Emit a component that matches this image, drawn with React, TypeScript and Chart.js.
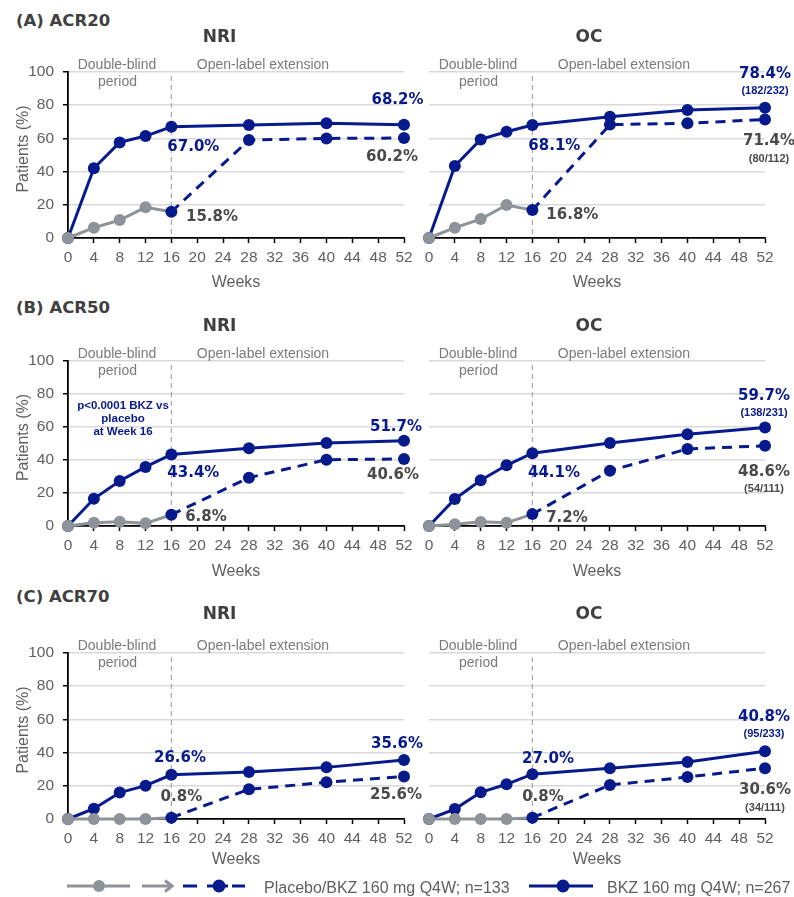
import React, { useEffect, useRef } from "react";
import { Chart, registerables } from "chart.js";

Chart.register(...registerables);

// ---------------- DATA ----------------
const weeks = [0, 4, 8, 12, 16, 28, 40, 52];
const dbWeeks = [0, 4, 8, 12, 16];
const extWeeks = [16, 28, 40, 52];

// ACR20
const acr20NriBkz = [0, 42.0, 57.6, 61.4, 67.0, 68.1, 69.1, 68.2];
const acr20NriPbo = [0, 6.2, 10.8, 18.5, 15.8];
const acr20NriExt = [15.8, 59.0, 60.0, 60.2];
const acr20OcBkz = [0, 43.4, 59.4, 64.0, 68.1, 73.1, 77.1, 78.4];
const acr20OcPbo = [0, 6.2, 11.4, 19.9, 16.8];
const acr20OcExt = [16.8, 68.3, 69.1, 71.4];
// ACR50
const acr50NriBkz = [0, 16.5, 27.3, 35.8, 43.4, 47.1, 50.3, 51.7];
const acr50NriPbo = [0, 2.0, 2.6, 1.6, 6.8];
const acr50NriExt = [6.8, 29.3, 40.2, 40.6];
const acr50OcBkz = [0, 16.4, 27.7, 36.8, 44.1, 50.3, 55.6, 59.7];
const acr50OcPbo = [0, 1.0, 2.5, 1.9, 7.2];
const acr50OcExt = [7.2, 33.5, 46.7, 48.6];
// ACR70
const acr70NriBkz = [0, 6.2, 15.9, 20.1, 26.6, 28.3, 31.1, 35.6];
const acr70NriPbo = [0, 0, 0, 0, 0.8];
const acr70NriExt = [0.8, 17.9, 22.1, 25.6];
const acr70OcBkz = [0, 6.0, 16.1, 20.9, 27.0, 30.5, 34.3, 40.8];
const acr70OcPbo = [0, 0, 0, 0, 0.8];
const acr70OcExt = [0.8, 20.5, 25.3, 30.6];

// OC counts at week 52
const ocBkzCounts = ["(182/232)", "(138/231)", "(95/233)"];
const ocExtCounts = ["(80/112)", "(54/111)", "(34/111)"];

const sectionTitles = ["(A) ACR20", "(B) ACR50", "(C) ACR70"];
const legendLabels = ["Placebo/BKZ 160 mg Q4W; n=133", "BKZ 160 mg Q4W; n=267"];
const pValueLines = ["p<0.0001 BKZ vs", "placebo", "at Week 16"];

// ---------------- STYLE ----------------
const BLUE = "#071a8c";
const GRAY = "#8e9399";
const LABEL_GRAY = "#4a4a4a";
const AXIS_TEXT = "#5f5f5f";
const SECTION_TEXT = "#7a7a7a";
const TITLE_COLOR = "#404040";
const SANS = "'Liberation Sans', Arial, sans-serif";
const VERD = "'DejaVu Sans', Verdana, sans-serif";

Chart.defaults.font.family = SANS;

type LabelSpec = {
  ds: "bkz" | "pbo" | "ext";
  i: number;
  dx: number;
  dy: number;
  blue: boolean;
  sub?: string;
  subDx?: number;
  subDy?: number;
};

type PanelCfg = {
  kind: "NRI" | "OC";
  bkz: number[];
  pbo: number[];
  ext: number[];
  chartTop: number;
  chartBottom: number;
  xh: number;
  weeksPb: number;
  titleDy: number;
  labels: LabelSpec[];
  pValue?: boolean;
};

const rows = [
  { top: 72, bottom: 238, xh: 55, pb: 0.4, tdy: -34 },
  { top: 361, bottom: 526, xh: 55, pb: 0, tdy: -34.3 },
  { top: 653, bottom: 819, xh: 52, pb: 1.4, tdy: -38 },
];

const panels: PanelCfg[] = [
  {
    kind: "NRI", bkz: acr20NriBkz, pbo: acr20NriPbo, ext: acr20NriExt,
    chartTop: rows[0].top, chartBottom: rows[0].bottom, xh: rows[0].xh, weeksPb: rows[0].pb, titleDy: rows[0].tdy,
    labels: [
      { ds: "bkz", i: 4, dx: 22, dy: 20, blue: true },
      { ds: "bkz", i: 7, dx: -6.5, dy: -25, blue: true },
      { ds: "ext", i: 3, dx: -12, dy: 18.6, blue: false },
      { ds: "pbo", i: 4, dx: 40.6, dy: 5, blue: false },
    ],
  },
  {
    kind: "OC", bkz: acr20OcBkz, pbo: acr20OcPbo, ext: acr20OcExt,
    chartTop: rows[0].top, chartBottom: rows[0].bottom, xh: rows[0].xh, weeksPb: rows[0].pb, titleDy: rows[0].tdy,
    labels: [
      { ds: "bkz", i: 4, dx: 22, dy: 21, blue: true },
      { ds: "bkz", i: 7, dx: 0, dy: -34, blue: true, sub: ocBkzCounts[0], subDx: 0, subDy: -17 },
      { ds: "ext", i: 3, dx: 4, dy: 22, blue: false, sub: ocExtCounts[0], subDx: 4, subDy: 39 },
      { ds: "pbo", i: 4, dx: 40, dy: 5, blue: false },
    ],
  },
  {
    kind: "NRI", bkz: acr50NriBkz, pbo: acr50NriPbo, ext: acr50NriExt,
    chartTop: rows[1].top, chartBottom: rows[1].bottom, xh: rows[1].xh, weeksPb: rows[1].pb, titleDy: rows[1].tdy,
    pValue: true,
    labels: [
      { ds: "bkz", i: 4, dx: 22, dy: 19, blue: true },
      { ds: "bkz", i: 7, dx: -8, dy: -14, blue: true },
      { ds: "ext", i: 3, dx: -11, dy: 16, blue: false },
      { ds: "pbo", i: 4, dx: 34.6, dy: 2, blue: false },
    ],
  },
  {
    kind: "OC", bkz: acr50OcBkz, pbo: acr50OcPbo, ext: acr50OcExt,
    chartTop: rows[1].top, chartBottom: rows[1].bottom, xh: rows[1].xh, weeksPb: rows[1].pb, titleDy: rows[1].tdy,
    labels: [
      { ds: "bkz", i: 4, dx: 21.6, dy: 19.5, blue: true },
      { ds: "bkz", i: 7, dx: -1, dy: -31.5, blue: true, sub: ocBkzCounts[1], subDx: -1, subDy: -14.5 },
      { ds: "ext", i: 3, dx: -1, dy: 26, blue: false, sub: ocExtCounts[1], subDx: -1, subDy: 43 },
      { ds: "pbo", i: 4, dx: 34.6, dy: 3.6, blue: false },
    ],
  },
  {
    kind: "NRI", bkz: acr70NriBkz, pbo: acr70NriPbo, ext: acr70NriExt,
    chartTop: rows[2].top, chartBottom: rows[2].bottom, xh: rows[2].xh, weeksPb: rows[2].pb, titleDy: rows[2].tdy,
    labels: [
      { ds: "bkz", i: 4, dx: 8.6, dy: -17, blue: true },
      { ds: "pbo", i: 4, dx: 10, dy: -20.4, blue: false },
      { ds: "bkz", i: 7, dx: -7, dy: -16, blue: true },
      { ds: "ext", i: 3, dx: -8, dy: 18.5, blue: false },
    ],
  },
  {
    kind: "OC", bkz: acr70OcBkz, pbo: acr70OcPbo, ext: acr70OcExt,
    chartTop: rows[2].top, chartBottom: rows[2].bottom, xh: rows[2].xh, weeksPb: rows[2].pb, titleDy: rows[2].tdy,
    labels: [
      { ds: "bkz", i: 4, dx: 15.6, dy: -15, blue: true },
      { ds: "pbo", i: 4, dx: 10.6, dy: -20.4, blue: false },
      { ds: "bkz", i: 7, dx: -1, dy: -34.6, blue: true, sub: ocBkzCounts[2], subDx: -1, subDy: -17.3 },
      { ds: "ext", i: 3, dx: 0, dy: 22, blue: false, sub: ocExtCounts[2], subDx: 0, subDy: 40 },
    ],
  },
];

const PAD_TOP = 60;

function geom(p: PanelCfg) {
  const isNri = p.kind === "NRI";
  const canvasLeft = isNri ? 0 : 400;
  const canvasWidth = isNri ? 430 : 394;
  const chartLeft = isNri ? 68 : 429;
  const chartRight = isNri ? 404 : 765;
  const canvasTop = p.chartTop - PAD_TOP;
  const canvasHeight = p.chartBottom - p.chartTop + PAD_TOP + p.xh;
  return {
    isNri,
    canvasLeft,
    canvasWidth,
    canvasTop,
    canvasHeight,
    yw: isNri ? chartLeft - canvasLeft : 0,
    padLeft: isNri ? 0 : chartLeft - canvasLeft,
    padRight: canvasLeft + canvasWidth - chartRight,
  };
}

function Panel({ p }: { p: PanelCfg }) {
  const ref = useRef<HTMLCanvasElement | null>(null);
  const g = geom(p);

  useEffect(() => {
    if (!ref.current) return;
    const annot = {
      id: "annot",
      beforeDatasetsDraw(chart: any) {
        const { ctx, chartArea, scales } = chart;
        const x16 = scales.x.getPixelForValue(16);
        ctx.save();
        ctx.strokeStyle = "#a8a8a8";
        ctx.lineWidth = 1.2;
        ctx.setLineDash([5, 4]);
        ctx.beginPath();
        ctx.moveTo(x16, chartArea.top + 4);
        ctx.lineTo(x16, chartArea.bottom);
        ctx.stroke();
        ctx.restore();
      },
      afterDraw(chart: any) {
        const { ctx, chartArea, scales } = chart;
        const L = chartArea.left;
        const T = chartArea.top;
        ctx.save();
        ctx.textAlign = "center";
        ctx.textBaseline = "middle";
        // panel title
        ctx.fillStyle = TITLE_COLOR;
        ctx.font = `bold 17px ${VERD}`;
        ctx.fillText(p.kind, L + (g.isNri ? 151.5 : 160), T + p.titleDy);
        // period labels
        ctx.fillStyle = SECTION_TEXT;
        ctx.font = `14px ${SANS}`;
        ctx.fillText("Double-blind", L + 49, T - 6.5);
        ctx.fillText("period", L + 49.5, T + 10);
        ctx.fillText("Open-label extension", L + 195, T - 6.5);
        // y title
        if (g.isNri) {
          ctx.save();
          ctx.translate(23.5, (chartArea.top + chartArea.bottom) / 2 - 6);
          ctx.rotate(-Math.PI / 2);
          ctx.fillStyle = AXIS_TEXT;
          ctx.font = `16px ${SANS}`;
          ctx.fillText("Patients (%)", 0, 0);
          ctx.restore();
        }
        // p-value
        if (p.pValue) {
          ctx.fillStyle = BLUE;
          ctx.font = `bold 11.5px ${SANS}`;
          ctx.fillText(pValueLines[0], L + 55, T + 45);
          ctx.fillText(pValueLines[1], L + 55, T + 57.7);
          ctx.fillText(pValueLines[2], L + 55, T + 71);
        }
        // value labels
        for (const lb of p.labels) {
          const xs = lb.ds === "bkz" ? weeks : lb.ds === "pbo" ? dbWeeks : extWeeks;
          const ys = lb.ds === "bkz" ? p.bkz : lb.ds === "pbo" ? p.pbo : p.ext;
          const px = scales.x.getPixelForValue(xs[lb.i]);
          const py = scales.y.getPixelForValue(ys[lb.i]);
          ctx.fillStyle = lb.blue ? BLUE : LABEL_GRAY;
          ctx.font = `bold 15px ${VERD}`;
          ctx.fillText(`${ys[lb.i].toFixed(1)}%`, px + lb.dx, py + lb.dy);
          if (lb.sub) {
            ctx.font = `bold 11px ${SANS}`;
            ctx.fillText(lb.sub, px + (lb.subDx ?? 0), py + (lb.subDy ?? 0));
          }
        }
        ctx.restore();
      },
    };

    const chart = new Chart(ref.current, {
      type: "line",
      data: {
        datasets: [
          {
            label: "Placebo",
            data: dbWeeks.map((x, i) => ({ x, y: p.pbo[i] })),
            borderColor: GRAY,
            backgroundColor: GRAY,
            pointBackgroundColor: GRAY,
            pointBorderColor: GRAY,
            borderWidth: 3,
            pointRadius: [6, 6, 6, 6, 0],
            pointBorderWidth: 0,
            order: 1,
            clip: false as any,
          },
          {
            label: "Placebo/BKZ 160 mg Q4W",
            data: extWeeks.map((x, i) => ({ x, y: p.ext[i] })),
            borderColor: BLUE,
            backgroundColor: BLUE,
            pointBackgroundColor: BLUE,
            pointBorderColor: BLUE,
            borderWidth: 3,
            borderDash: [10, 7],
            pointRadius: 6,
            pointBorderWidth: 0,
            order: 0,
            clip: false as any,
          },
          {
            label: "BKZ 160 mg Q4W",
            data: weeks.map((x, i) => ({ x, y: p.bkz[i] })),
            borderColor: BLUE,
            backgroundColor: BLUE,
            pointBackgroundColor: BLUE,
            pointBorderColor: BLUE,
            borderWidth: 3,
            pointRadius: 6,
            pointBorderWidth: 0,
            order: 2,
            clip: false as any,
          },
        ],
      },
      options: {
        responsive: false,
        maintainAspectRatio: false,
        animation: false,
        devicePixelRatio: 1,
        events: [],
        layout: { padding: { top: PAD_TOP, left: g.padLeft, right: g.padRight, bottom: 0 } },
        plugins: {
          legend: { display: false },
          tooltip: { enabled: false },
          title: { display: false },
        },
        scales: {
          x: {
            type: "linear",
            min: 0,
            max: 52,
            afterFit: (s: any) => {
              s.height = p.xh;
            },
            ticks: {
              stepSize: 4,
              autoSkip: false,
              maxRotation: 0,
              padding: 5,
              color: AXIS_TEXT,
              font: { size: 15.5, family: SANS },
            },
            grid: {
              drawOnChartArea: false,
              drawTicks: true,
              tickLength: 5,
              tickColor: "#000",
              tickWidth: 1.5,
            },
            border: { color: "#000", width: 1.8 },
            title: {
              display: true,
              text: "Weeks",
              color: AXIS_TEXT,
              font: { size: 16, family: SANS },
              padding: { top: 0, bottom: p.weeksPb },
            },
          },
          y: {
            min: 0,
            max: 100,
            afterFit: (s: any) => {
              s.width = g.yw;
            },
            ticks: {
              stepSize: 20,
              display: g.isNri,
              padding: 9,
              color: AXIS_TEXT,
              font: { size: 15.5, family: SANS },
            },
            grid: {
              color: "#d9d9d9",
              lineWidth: 1.5,
              drawTicks: g.isNri,
              tickLength: 5,
              tickColor: "#000",
              tickWidth: 1.5,
            },
            border: { display: g.isNri, color: "#000", width: 1.8 },
          },
        },
      } as any,
      plugins: [annot],
    });
    return () => chart.destroy();
  }, []);

  return (
    <canvas
      ref={ref}
      width={g.canvasWidth}
      height={g.canvasHeight}
      style={{
        position: "absolute",
        left: g.canvasLeft,
        top: g.canvasTop,
        width: g.canvasWidth,
        height: g.canvasHeight,
      }}
    />
  );
}

function Legend() {
  const cy = 16;
  return (
    <svg
      width={794}
      height={30}
      style={{ position: "absolute", left: 0, top: 870 }}
    >
      <line x1={67} y1={cy} x2={130} y2={cy} stroke={GRAY} strokeWidth={3} />
      <circle cx={99} cy={cy} r={6} fill={GRAY} />
      <line x1={142} y1={cy} x2={171} y2={cy} stroke={GRAY} strokeWidth={3} />
      <polyline
        points={`${165},${cy - 5.5} ${172},${cy} ${165},${cy + 5.5}`}
        fill="none"
        stroke={GRAY}
        strokeWidth={3}
      />
      <line x1={183} y1={cy} x2={197} y2={cy} stroke={BLUE} strokeWidth={3} />
      <line x1={207} y1={cy} x2={228} y2={cy} stroke={BLUE} strokeWidth={3} />
      <circle cx={219} cy={cy} r={6.5} fill={BLUE} />
      <line x1={232} y1={cy} x2={245} y2={cy} stroke={BLUE} strokeWidth={3} />
      <text
        x={264}
        y={cy + 1}
        fill={AXIS_TEXT}
        fontSize={16}
        fontFamily={SANS}
        dominantBaseline="central"
      >
        {legendLabels[0]}
      </text>
      <line x1={529} y1={cy} x2={593} y2={cy} stroke={BLUE} strokeWidth={3} />
      <circle cx={563} cy={cy} r={6.5} fill={BLUE} />
      <text
        x={607}
        y={cy + 1}
        fill={AXIS_TEXT}
        fontSize={16}
        fontFamily={SANS}
        dominantBaseline="central"
      >
        {legendLabels[1]}
      </text>
    </svg>
  );
}

export default function App() {
  const headingTops = [13, 300, 589];
  return (
    <div
      style={{
        position: "absolute",
        left: 0,
        top: 0,
        width: 794,
        height: 897,
        background: "#fff",
        overflow: "hidden",
      }}
    >
      {sectionTitles.map((t, i) => (
        <div
          key={t}
          style={{
            position: "absolute",
            left: 16,
            top: headingTops[i],
            fontFamily: VERD,
            fontWeight: "bold",
            fontSize: 16.5,
            lineHeight: "16.5px",
            color: TITLE_COLOR,
            whiteSpace: "nowrap",
          }}
        >
          {t}
        </div>
      ))}
      {panels.map((p, i) => (
        <Panel key={i} p={p} />
      ))}
      <Legend />
    </div>
  );
}
